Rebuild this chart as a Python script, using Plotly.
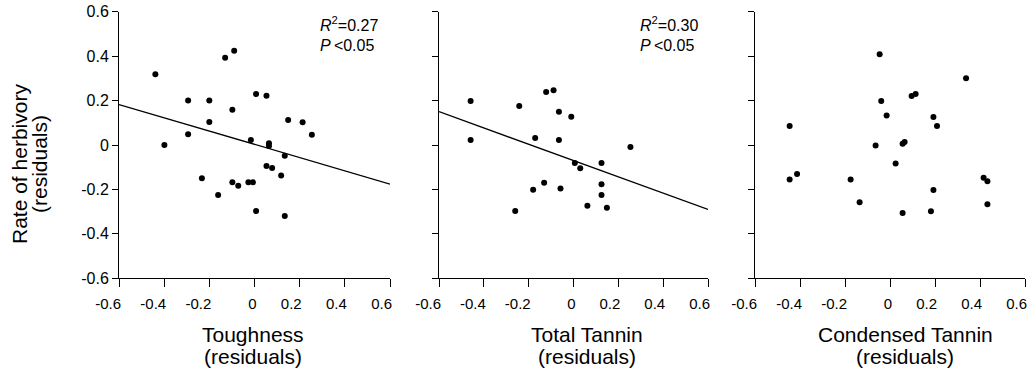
import plotly.graph_objects as go

W, H = 1031, 375

# ---------------- data ----------------
tough_x = [-0.439, -0.399, -0.294, -0.294, -0.233, -0.200, -0.200, -0.161, -0.130, -0.090,
           -0.098, -0.098, -0.072, -0.027, -0.007, -0.016, 0.007, 0.007, 0.053, 0.053,
           0.064, 0.064, 0.078, 0.118, 0.134, 0.134, 0.149, 0.213, 0.254]
tough_y = [0.319, 0.000, 0.200, 0.048, -0.150, 0.200, 0.103, -0.225, 0.393, 0.424,
           0.159, -0.168, -0.183, -0.168, -0.168, 0.022, 0.229, -0.297, 0.222, -0.094,
           0.008, -0.005, -0.103, -0.137, -0.048, -0.320, 0.112, 0.102, 0.046]

total_x = [-0.459, -0.459, -0.260, -0.242, -0.180, -0.171, -0.131, -0.122, -0.089, -0.065,
           -0.065, -0.058, -0.010, 0.006, 0.030, 0.062, 0.125, 0.125, 0.125, 0.149, 0.254]
total_y = [0.198, 0.022, -0.297, 0.175, -0.201, 0.031, -0.170, 0.238, 0.246, 0.150,
           0.022, -0.196, 0.127, -0.081, -0.105, -0.273, -0.081, -0.177, -0.225, -0.282, -0.009]

cond_x = [-0.446, -0.446, -0.413, -0.175, -0.135, -0.064, -0.046, -0.039, -0.015, 0.025,
          0.056, 0.065, 0.056, 0.096, 0.114, 0.182, 0.193, 0.193, 0.209, 0.338,
          0.416, 0.433, 0.433]
cond_y = [0.085, -0.155, -0.130, -0.155, -0.258, -0.002, 0.408, 0.198, 0.133, -0.083,
          0.006, 0.013, -0.306, 0.220, 0.229, -0.298, 0.126, -0.203, 0.085, 0.301,
          -0.147, -0.163, -0.267]

# regression lines (slope, intercept) for the two significant panels
tough_fit = (-0.298, 0.003)
total_fit = (-0.367, -0.070)

x_titles = ["Toughness", "Total Tannin", "Condensed Tannin"]
y_title = ["Rate of herbivory", "(residuals)"]
stats = [("0.27", "&lt;0.05"), ("0.30", "&lt;0.05")]

tick_vals = [-0.6, -0.4, -0.2, 0, 0.2, 0.4, 0.6]
tick_text = ["-0.6", "-0.4", "-0.2", "0", "0.2", "0.4", "0.6"]
fit_x = [-0.6, 0.6]

# ---------------- layout geometry (pixels) ----------------
panels_px = [(119, 390), (439, 708), (755, 1025)]
y_top_px, y_bot_px = 11.7, 278.3
FONT = "Liberation Sans, Arial, Helvetica, sans-serif"

fig = go.Figure()

series = [(tough_x, tough_y, tough_fit), (total_x, total_y, total_fit), (cond_x, cond_y, None)]
for i, (xs, ys, fit) in enumerate(series):
    ax = "" if i == 0 else str(i + 1)
    fig.add_trace(go.Scatter(x=xs, y=ys, mode="markers", xaxis="x" + ax, yaxis="y" + ax,
                             marker=dict(color="black", size=6), showlegend=False,
                             cliponaxis=False))
    if fit is not None:
        fy = [fit[0] * v + fit[1] for v in fit_x]
        fig.add_trace(go.Scatter(x=fit_x, y=fy, mode="lines", xaxis="x" + ax, yaxis="y" + ax,
                                 line=dict(color="black", width=1.3), showlegend=False))

ydom = [(H - y_bot_px) / H, (H - y_top_px) / H]
layout = dict(width=W, height=H, margin=dict(l=0, r=0, t=0, b=0, autoexpand=False),
              paper_bgcolor="white", plot_bgcolor="white",
              font=dict(family=FONT, color="black"))
for i, (l, r) in enumerate(panels_px):
    ax = "" if i == 0 else str(i + 1)
    layout["xaxis" + ax] = dict(domain=[l / W, r / W], range=[-0.6, 0.6], anchor="y" + ax,
                                showline=True, linecolor="black", linewidth=1,
                                ticks="outside", ticklen=8, tickwidth=1, tickcolor="black",
                                tickvals=tick_vals, ticktext=tick_text,
                                ticklabelposition="outside left", ticklabelshift=3,
                                ticklabelstandoff=12,
                                tickfont=dict(size=15, family=FONT, color="black"),
                                showgrid=False, zeroline=False, fixedrange=True, automargin=False)
    layout["yaxis" + ax] = dict(domain=ydom, range=[-0.6, 0.6], anchor="x" + ax,
                                showline=True, linecolor="black", linewidth=1,
                                ticks="outside", ticklen=6, tickwidth=1, tickcolor="black",
                                tickvals=tick_vals, ticktext=tick_text,
                                showticklabels=(i == 0),
                                tickfont=dict(size=16, family=FONT, color="black"),
                                showgrid=False, zeroline=False, fixedrange=True, automargin=False)
fig.update_layout(**layout)

ann = []
# x-axis titles (two lines each)
title_cx = [253, 587, 905]
for t, cx in zip(x_titles, title_cx):
    ann.append(dict(text=t, x=cx / W, y=(H - 334) / H, xref="paper", yref="paper",
                    xanchor="center", yanchor="middle", showarrow=False,
                    font=dict(size=21, family=FONT, color="black")))
    ann.append(dict(text="(residuals)", x=cx / W, y=(H - 356.5) / H, xref="paper", yref="paper",
                    xanchor="center", yanchor="middle", showarrow=False,
                    font=dict(size=21, family=FONT, color="black")))
# y-axis title
for t, cx in zip(y_title, [19, 39]):
    ann.append(dict(text=t, x=cx / W, y=(H - 164) / H, xref="paper", yref="paper",
                    xanchor="center", yanchor="middle", textangle=-90, showarrow=False,
                    font=dict(size=21, family=FONT, color="black")))
# statistics
stat_x = [318, 638]
for (r2, p), sx in zip(stats, stat_x):
    ann.append(dict(text="<i>R</i><sup>2</sup>=" + r2, x=sx / W, y=(H - 24) / H,
                    xref="paper", yref="paper", xanchor="left", yanchor="middle",
                    showarrow=False, font=dict(size=16, family=FONT, color="black")))
    ann.append(dict(text="<i>P</i>\u2009" + p, x=sx / W, y=(H - 45) / H,
                    xref="paper", yref="paper", xanchor="left", yanchor="middle",
                    showarrow=False, font=dict(size=16, family=FONT, color="black")))
fig.update_layout(annotations=ann)

fig.write_html("out.html")
